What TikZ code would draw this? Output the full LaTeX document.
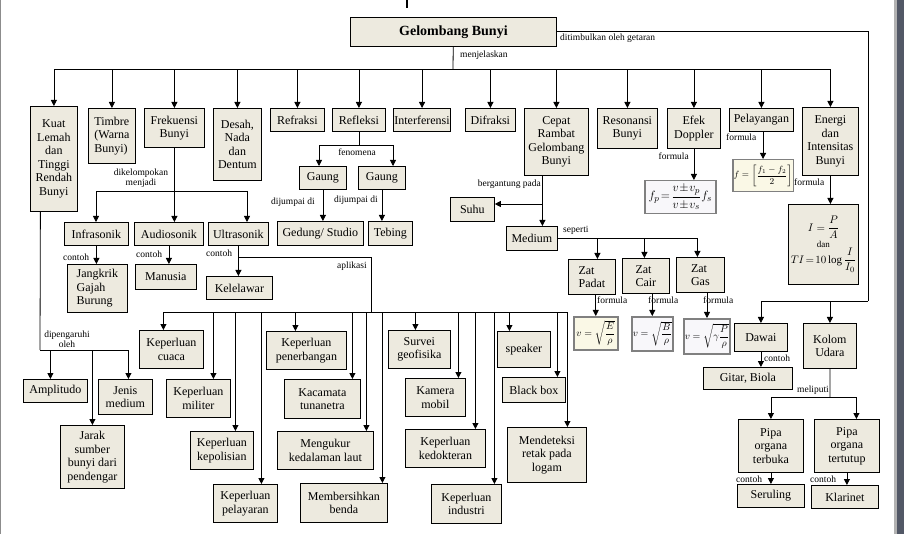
\documentclass[tikz,border=0pt]{standalone}
\usepackage{amsmath}
\usepackage{fontspec}
\setmainfont{Liberation Serif}
\usetikzlibrary{arrows.meta}
\definecolor{kotakisi}{RGB}{237,234,223}
\definecolor{rumusisi}{RGB}{250,248,230}
\definecolor{rumusputih}{RGB}{248,247,250}
\definecolor{tepi}{RGB}{82,88,102}
\tikzset{
  kotak/.style={draw=black, line width=0.8pt, fill=kotakisi, inner sep=1pt, align=center, font=\fontsize{12}{13.5}\selectfont},
  rumus/.style={kotak, draw=black!50, line width=1.5pt, fill=rumusisi},
  ket/.style={inner sep=0pt, align=center, font=\fontsize{9.5}{10.5}\selectfont},
  garis/.style={line width=0.8pt},
  panah/.style={garis, -{Triangle[length=6pt,width=6pt]}},
  balik/.style={garis, {Triangle[length=6pt,width=6pt]}-},
}
\begin{document}
\begin{tikzpicture}[x=1pt,y=-1pt]
  \newcommand{\kotak}[7][]{
    \node[kotak, #1, anchor=north west, minimum width={#5-#3}, minimum height={#6-#4}] (#2) at (#3,#4) {#7};
  }
\useasboundingbox (0,0) rectangle (904,534);
\fill[white] (0,0) rectangle (904,534);
\draw[black!45, line width=1.2pt] (0.6,0) -- (0.6,534);
\fill[black!30] (894,0) rectangle (897,534);
\fill[tepi] (897,0) rectangle (904,534);
\draw[line width=1.5pt] (407,0) -- (407,8);

% judul dan cabang utama
\kotak[font=\bfseries\fontsize{14}{16}\selectfont]{judul}{350}{17}{556}{46}{Gelombang Bunyi}
\kotak{kuat}{30}{106}{77}{211}{Kuat\\Lemah\\dan\\Tinggi\\Rendah\\Bunyi}
\kotak[align=left]{timbre}{88}{108}{135}{163}{Timbre\\(Warna\\Bunyi)}
\kotak{frek}{144}{108}{204}{147}{Frekuensi\\Bunyi}
\kotak{desah}{213}{108}{261}{180}{Desah,\\Nada\\dan\\Dentum}
\kotak{refraksi}{270}{108}{324}{131}{Refraksi}
\kotak{refleksi}{332}{108}{385}{131}{Refleksi}
\kotak{interferensi}{393}{108}{450}{131}{Interferensi}
\kotak{difraksi}{465}{108}{515}{131}{Difraksi}
\kotak{cepat}{524}{108}{588}{175}{Cepat\\Rambat\\Gelombang\\Bunyi}
\kotak{resonansi}{597}{108}{657}{148}{Resonansi\\Bunyi}
\kotak{doppler}{667}{108}{720}{148}{Efek\\Doppler}
\kotak{pelayangan}{729}{108}{793}{131}{Pelayangan}
\kotak{energi}{802}{107}{858}{175}{Energi\\dan\\Intensitas\\Bunyi}

% tingkat kedua
\kotak{gaung1}{299}{166}{346}{189}{Gaung}
\kotak{gaung2}{358}{166}{405}{189}{Gaung}
\kotak{gedung}{277}{221}{363}{245}{Gedung/ Studio}
\kotak{tebing}{368}{221}{412}{245}{Tebing}
\kotak{infra}{64}{222}{128}{245}{Infrasonik}
\kotak{audio}{134}{222}{203}{245}{Audiosonik}
\kotak{ultra}{208}{222}{268}{245}{Ultrasonik}
\kotak[align=left]{jangkrik}{67}{264}{127}{312}{Jangkrik\\Gajah\\Burung}
\kotak{manusia}{135}{264}{196}{289}{Manusia}
\kotak{kelelawar}{206}{276}{272}{299}{Kelelawar}
\kotak{amplitudo}{23}{379}{87}{402}{Amplitudo}
\kotak{jenis}{98}{379}{152}{414}{Jenis\\medium}
\kotak{jarak}{60}{425}{124}{488}{Jarak\\sumber\\bunyi dari\\pendengar}

% aplikasi ultrasonik
\kotak{cuaca}{139}{330}{203}{368}{Keperluan\\cuaca}
\kotak{militer}{166}{379}{230}{417}{Keperluan\\militer}
\kotak{polisi}{190}{431}{253}{469}{Keperluan\\kepolisian}
\kotak{pelayaran}{213}{484}{277}{522}{Keperluan\\pelayaran}
\kotak{penerbangan}{266}{331}{346}{369}{Keperluan\\penerbangan}
\kotak{kacamata}{284}{379}{360}{418}{Kacamata\\tunanetra}
\kotak{kedalaman}{277}{431}{373}{469}{Mengukur\\kedalaman laut}
\kotak{bersih}{300}{483}{387}{522}{Membersihkan\\benda}
\kotak{survei}{388}{330}{450}{368}{Survei\\geofisika}
\kotak{kamera}{405}{378}{465}{416}{Kamera\\mobil}
\kotak{dokter}{405}{429}{485}{467}{Keperluan\\kedokteran}
\kotak{industri}{431}{484}{501}{523}{Keperluan\\industri}
\kotak{speaker}{497}{331}{550}{367}{speaker}
\kotak{blackbox}{502}{377}{565}{402}{Black box}
\kotak{logam}{507}{427}{586}{482}{Mendeteksi\\retak pada\\logam}

% cepat rambat dan rumus
\kotak[align=left]{suhu}{450}{197}{494}{221}{Suhu}
\kotak{medium}{506}{226}{557}{250}{Medium}
\kotak[align=left]{padat}{568}{259}{615}{294}{Zat\\Padat}
\kotak[align=left]{cair}{622}{258}{669}{293}{Zat\\Cair}
\kotak[align=left]{gas}{676}{257}{724}{292}{Zat\\Gas}
\kotak[rumus, font=\fontsize{10}{11}\selectfont]{fpadat}{573}{316}{617}{349}{$v=\sqrt{\dfrac{E}{\rho}}$}
\kotak[rumus, fill=rumusputih, font=\fontsize{10}{11}\selectfont]{fcair}{631}{316}{667}{350}{$v=\sqrt{\dfrac{B}{\rho}}$}
\kotak[rumus, fill=rumusputih, font=\fontsize{10}{11}\selectfont]{fgas}{683}{318}{727}{353}{$v=\sqrt{\gamma\dfrac{P}{\rho}}$}
\kotak[rumus, fill=rumusputih, font=\fontsize{13}{14}\selectfont]{fdoppler}{644}{180}{715}{213}{$f_p\!=\!\dfrac{v\!\pm\! v_p}{v\!\pm\! v_s}f_s$}
\kotak[rumus, font=\fontsize{9}{10}\selectfont]{fpelayangan}{732}{159}{785}{191}{$f=\left[\dfrac{f_1-f_2}{2}\right]$}
\kotak[font=\fontsize{11}{12}\selectfont]{fenergi}{788}{204}{858}{284}{$I=\dfrac{P}{A}$\\[1pt]{\fontsize{9}{10}\selectfont dan}\\$TI\!=\!10\log\dfrac{I}{I_0}$}
\kotak{dawai}{734}{323}{787}{351}{Dawai}
\kotak{kolom}{803}{323}{856}{368}{Kolom\\Udara}
\kotak{gitar}{703}{367}{792}{389}{Gitar, Biola}
\kotak{terbuka}{738}{419}{803}{472}{Pipa\\organa\\terbuka}
\kotak{tertutup}{814}{419}{879}{472}{Pipa\\organa\\tertutup}
\kotak{seruling}{737}{484}{804}{507}{Seruling}
\kotak{klarinet}{811}{485}{878}{508}{Klarinet}

% keterangan
\node[ket, anchor=west] (lGetaran) at (560,38) {ditimbulkan oleh getaran};
\node[ket, anchor=west] (lJelas) at (460,55) {menjelaskan};
\node[ket] (lFenomena) at (357,152) {fenomena};
\node[ket, anchor=west] (lJumpa1) at (271,202) {dijumpai di};
\node[ket, anchor=west] (lJumpa2) at (334,200) {dijumpai di};
\node[ket] (lKelompok) at (141,178) {dikelompokan\\menjadi};
\node[ket, anchor=west] (lContoh1) at (63,257) {contoh};
\node[ket, anchor=west] (lContoh2) at (136,254) {contoh};
\node[ket, anchor=west] (lContoh3) at (206,253) {contoh};
\node[ket, anchor=west] (lAplikasi) at (337,266) {aplikasi};
\node[ket] (lPengaruh) at (67,339) {dipengaruhi\\oleh};
\node[ket, anchor=east] (lGantung) at (541,184) {bergantung pada};
\node[ket, anchor=west] (lSeperti) at (563,230) {seperti};
\node[ket, anchor=west] (lRumus1) at (597,300) {formula};
\node[ket, anchor=west] (lRumus2) at (648,300) {formula};
\node[ket, anchor=west] (lRumus3) at (703,300) {formula};
\node[ket, anchor=east] (lRumus4) at (689,156) {formula};
\node[ket, anchor=west] (lRumus5) at (726,137) {formula};
\node[ket, anchor=west] (lRumus6) at (794,182) {formula};
\node[ket, anchor=west] (lContoh4) at (764,358) {contoh};
\node[ket, anchor=west] (lMeliputi) at (797,390) {meliputi};
\node[ket, anchor=west] (lContoh5) at (736,479) {contoh};
\node[ket, anchor=west] (lContoh6) at (810,479) {contoh};

% garis utama
\coordinate (bus) at (453,69);
\draw[garis] (judul) -- (bus);
\draw[balik] (kuat) |- (bus);
\draw[balik] (timbre) |- (bus);
\draw[balik] (frek) |- (bus);
\draw[balik] (desah) |- (bus);
\draw[balik] (refraksi) |- (bus);
\draw[balik] (refleksi) |- (bus);
\draw[balik] (interferensi) |- (bus);
\draw[balik] (difraksi) |- (bus);
\draw[balik] (cepat) |- (bus);
\draw[balik] (resonansi) |- (bus);
\draw[balik] (doppler) |- (bus);
\draw[balik] (pelayangan) |- (bus);
\draw[balik] (energi) |- (bus);

% getaran
\coordinate (getar) at (868,301);
\draw[garis] (judul) -| (getar);
\draw[balik] (dawai) |- (getar);
\draw[balik] (kolom) |- (getar);

% refleksi
\coordinate (fen1) at (319,145);
\coordinate (fen2) at (393,145);
\draw[garis] (refleksi) -- (refleksi |- fen1);
\draw[panah] (fen2) -- (fen1) -- (fen1 |- gaung1.north);
\draw[panah] (fen2) -- (fen2 |- gaung2.north);
\draw[panah] (gaung1) -- (gaung1 |- gedung.north);
\draw[panah] (gaung2) -- (gaung2 |- tebing.north);

% frekuensi
\draw[panah] (frek) -- (frek |- audio.north);
\coordinate (kel1) at (96,191);
\coordinate (kel2) at (247,191);
\draw[panah] (kel2) -- (kel1) -- (kel1 |- infra.north);
\draw[panah] (kel2) -- (kel2 |- ultra.north);
\draw[panah] (infra) -- (infra |- jangkrik.north);
\draw[panah] (audio) -- (audio |- manusia.north);
\draw[panah] (ultra) -- (ultra |- kelelawar.north);

% aplikasi
\coordinate (apl) at (371,257);
\coordinate (abus) at (371,312);
\draw[garis] (ultra |- apl) -- (apl) -- (abus);
\draw[balik] ([xshift=-8pt]cuaca.north) |- (abus);
\draw[balik] ([xshift=15pt]militer.north) |- (abus);
\draw[balik] ([xshift=13.5pt]polisi.north) |- (abus);
\draw[balik] ([xshift=16pt]pelayaran.north) |- (abus);
\draw[balik] ([xshift=-11pt]penerbangan.north) |- (abus);
\draw[balik] ([xshift=30pt]kacamata.north) |- (abus);
\draw[balik] ([xshift=41pt]kedalaman.north) |- (abus);
\draw[balik] ([xshift=38.5pt]bersih.north) |- (abus);
\draw[balik] ([xshift=-4pt]survei.north) |- (abus);
\draw[balik] ([xshift=23pt]kamera.north) |- (abus);
\draw[balik] ([xshift=30pt]dokter.north) |- (abus);
\draw[balik] ([xshift=28pt]industri.north) |- (abus);
\draw[balik] ([xshift=-14.5pt]speaker.north) |- (abus);
\draw[balik] ([xshift=23.5pt]blackbox.north) |- (abus);
\draw[balik] ([xshift=20.5pt]logam.north) |- (abus);

% kuat lemah
\coordinate (pgr) at (40,350);
\draw[garis] ([xshift=-13.5pt]kuat.south) -- (pgr);
\draw[balik] ([xshift=-5pt]amplitudo.north) |- (pgr);
\draw[balik] ([xshift=3pt]jenis.north) |- (pgr);
\draw[balik] (jarak) |- (pgr);

% cepat rambat
\coordinate (gantung) at (542,204);
\draw[panah] ([xshift=-14pt]cepat.south) -- ([xshift=10.5pt]medium.north);
\draw[balik] (gantung -| suhu.east) -- (gantung);
\draw[balik] ([xshift=5.5pt]padat.north) |- (medium);
\draw[balik] ([xshift=-1.5pt]cair.north) |- (medium);
\draw[balik] ([xshift=-3pt]gas.north) |- (medium);

% formula
\draw[panah] (fpadat |- padat.south) -- (fpadat);
\draw[panah] (fcair |- cair.south) -- (fcair);
\draw[panah] (fgas |- gas.south) -- (fgas);
\draw[panah] (doppler) -- (doppler |- fdoppler.north);
\draw[panah] (fpelayangan |- pelayangan.south) -- (fpelayangan);
\draw[panah] (energi) -- (energi |- fenergi.north);

% dawai dan kolom udara
\draw[panah] (dawai) -- (dawai |- gitar.north);
\coordinate (liputi) at (830,397);
\draw[garis] (kolom) -- (liputi);
\draw[balik] (terbuka) |- (liputi);
\draw[balik] ([xshift=9.5pt]tertutup.north) |- (liputi);
\draw[panah] (terbuka) -- (seruling);
\draw[panah] (tertutup) -- (tertutup |- klarinet.north);
\end{tikzpicture}
\end{document}
